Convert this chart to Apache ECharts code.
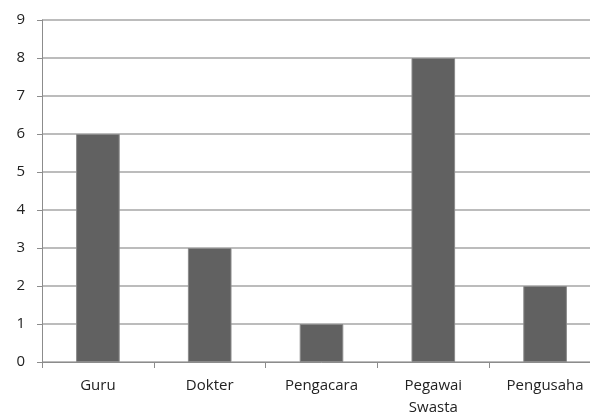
<!DOCTYPE html>
<html>
<head>
<meta charset="utf-8">
<script src="https://cdn.jsdelivr.net/npm/echarts@6/dist/echarts.min.js"></script>
<style>
  html, body { margin: 0; padding: 0; background: #ffffff; overflow: hidden; }
  #chart { width: 601px; height: 415px; }
</style>
</head>
<body>
<div id="chart"></div>
<script>
// Occupations and counts
const categories = ['Guru', 'Dokter', 'Pengacara', 'Pegawai\nSwasta', 'Pengusaha'];
const counts = [6, 3, 1, 8, 2];
const yTicks = [0, 1, 2, 3, 4, 5, 6, 7, 8, 9];

const chart = echarts.init(document.getElementById('chart'), null, { renderer: 'canvas' });
const labelFont = { fontFamily: 'Open Sans', fontSize: 15, color: '#222222' };

chart.setOption({
  animation: false,
  backgroundColor: '#ffffff',
  grid: { left: 42, top: 20, width: 559, height: 342, containLabel: false, outerBoundsMode: 'none' },
  xAxis: {
    type: 'category',
    data: categories,
    axisLine: { lineStyle: { color: '#8c8c8c', width: 1 } },
    axisTick: { show: true, length: 6, alignWithLabel: false, lineStyle: { color: '#8c8c8c' } },
    axisLabel: Object.assign({ margin: 13, lineHeight: 22, interval: 0 }, labelFont),
    splitLine: { show: false }
  },
  yAxis: {
    type: 'value',
    min: yTicks[0],
    max: yTicks[yTicks.length - 1],
    interval: 1,
    axisLine: { show: true, lineStyle: { color: '#8c8c8c', width: 1 } },
    axisTick: { show: true, length: 5, lineStyle: { color: '#8c8c8c' } },
    axisLabel: Object.assign({ margin: 17 }, labelFont),
    splitLine: { show: true, lineStyle: { color: '#a6a6a6', width: 1.5 } }
  },
  series: [{
    type: 'bar',
    data: counts,
    barWidth: '39%',
    itemStyle: { color: '#616161', borderColor: '#8a8a8a', borderWidth: 1 }
  }]
});
</script>
</body>
</html>
